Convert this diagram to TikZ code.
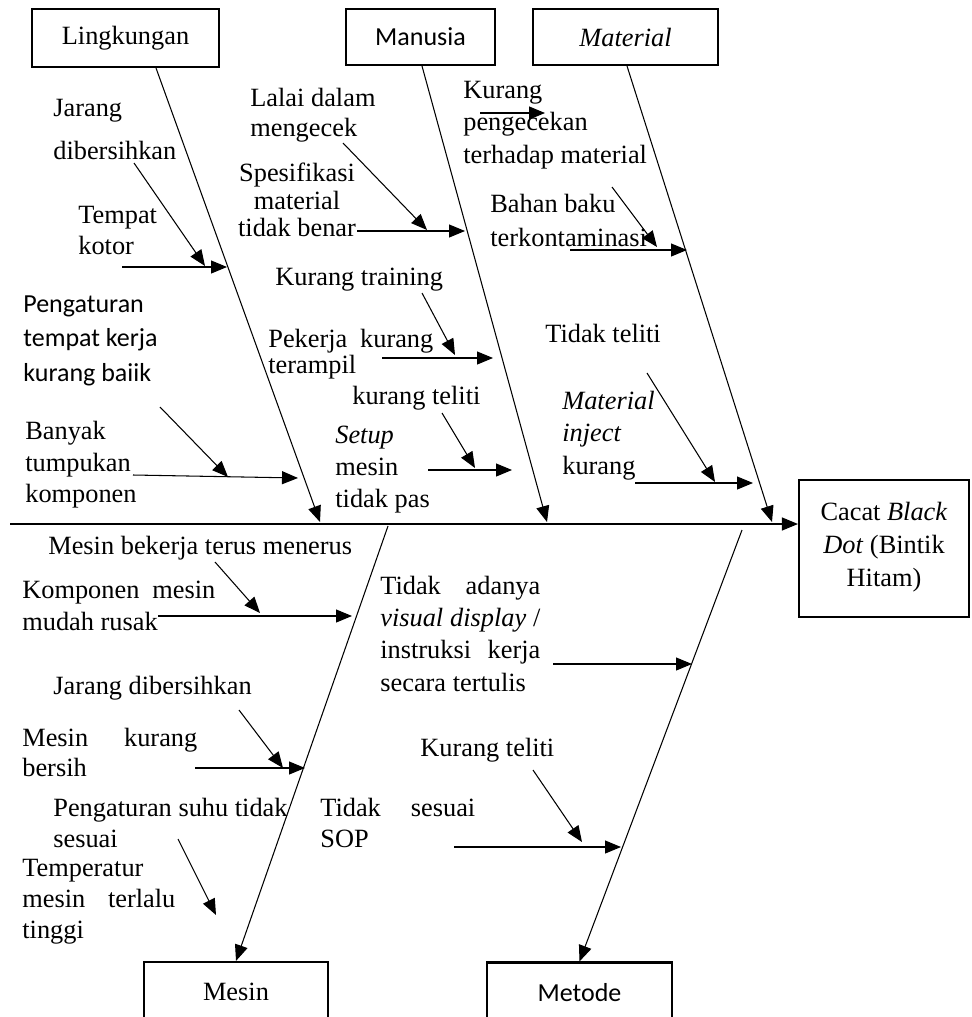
\documentclass[tikz,border=0pt]{standalone}
\usepackage{fontspec}
\setmainfont{Liberation Serif}
\setsansfont{Carlito}
\usetikzlibrary{arrows.meta}
\tikzset{%
  catbox/.style={draw, rectangle, line width=1.2pt, inner sep=0pt, font=\fontsize{15}{18}\selectfont},% category boxes
  cause/.style={inner sep=0pt, anchor=north west, align=left, font=\fontsize{15}{#1}\selectfont},% cause texts
  cause/.default=18,
  scause/.style={cause, font=\sffamily\fontsize{14.8}{#1}\selectfont},% sans cause texts
  bone/.style={line width=0.6pt, -{Triangle[length=3.2mm,width=2.6mm]}},% main bones
  twig/.style={line width=0.6pt, -{Triangle[length=3.2mm,width=2.6mm]}}% cause arrows
}
\newcommand*{\jline}[2]{\makebox[#1][s]{#2}}

\begin{document}
\begin{tikzpicture}[x=0.02cm, y=-0.02cm]
\clip (0,0) rectangle (971,1017);

% category and effect boxes
\node[catbox, minimum width=3.74cm, minimum height=1.16cm] (lk) at (125.5,38) {Lingkungan};
\node[catbox, minimum width=2.98cm, minimum height=1.12cm, font=\sffamily\fontsize{14.8}{18}\selectfont] (mn) at (420.5,37) {Manusia};
\node[catbox, minimum width=3.70cm, minimum height=1.12cm, font=\itshape\fontsize{15}{18}\selectfont] (mt) at (625.5,37) {Material};
\node[catbox, minimum width=3.40cm, minimum height=2.74cm, align=center, font=\fontsize{15}{18.7}\selectfont] (ef) at (884,548.5) {Cacat \textit{Black}\\\textit{Dot} (Bintik\\Hitam)\\[-14pt]\mbox{}};
\node[catbox, minimum width=3.68cm, minimum height=1.20cm] (ms) at (236,992) {Mesin};
\node[catbox, minimum width=3.70cm, minimum height=1.20cm, font=\sffamily\fontsize{14.8}{18}\selectfont] (me) at (579.5,992.5) {Metode};

% spine and bones
\coordinate (spL) at (10,524);
\coordinate (lkA) at (156,68);  \coordinate (lkB) at (320,522);
\coordinate (mnA) at (422,66);  \coordinate (mnB) at (547,522);
\coordinate (mtA) at (627,66);  \coordinate (mtB) at (772,522);
\coordinate (msA) at (388,526);
\coordinate (meA) at (742,530);
\draw[bone] (spL) -- (spL -| ef.west);
\draw[bone] (lkA) -- (lkB);
\draw[bone] (mnA) -- (mnB);
\draw[bone] (mtA) -- (mtB);
\draw[bone] (msA) -- (ms.north);
\draw[bone] (meA) -- (me.north);

% Lingkungan
\node[cause=24.4] (c1) at (53,99) {Jarang\\dibersihkan};
\node[cause=17.6] (c2) at (78,206) {Tempat\\kotor};
\node[scause=19.8] (c3) at (23,295) {Pengaturan\\tempat kerja\\kurang baiik};
\node[cause=17.9] (c4) at (25,421) {Banyak\\tumpukan\\komponen};
\coordinate (p1) at (134,163); \coordinate (q1) at (205,266);
\coordinate (p2) at (122,267); \coordinate (q2) at (227,267);
\coordinate (p3) at (160,407); \coordinate (q3) at (228,477);
\coordinate (p4) at (133,475); \coordinate (q4) at (298,478);
\draw[twig] (p1) -- (q1);
\draw[twig] (p2) -- (q2);
\draw[twig] (p3) -- (q3);
\draw[twig] (p4) -- (q4);

% Manusia
\node[cause=17] (c5) at (250,88) {Lalai dalam\\mengecek};
\node[cause=15.6, anchor=north, align=center] (c6) at (297,163) {Spesifikasi\\material\\tidak benar};
\node[cause] (c7) at (275,268) {Kurang training};
\node[cause=14.7] (c8) at (268,329) {\jline{3.3cm}{Pekerja kurang}\\terampil};
\node[cause] (c9) at (352,386) {kurang teliti};
\node[cause=18.1] (c10) at (335,426) {\textit{Setup}\\mesin\\tidak pas};
\coordinate (p5) at (343,143);  \coordinate (q5) at (427,230);
\coordinate (p6) at (357,231);  \coordinate (q6) at (465,231);
\coordinate (p7) at (422,293);  \coordinate (q7) at (455,355);
\coordinate (p8) at (382,358);  \coordinate (q8) at (493,358);
\coordinate (p9) at (442,413);  \coordinate (q9) at (475,468);
\coordinate (p10) at (428,470); \coordinate (q10) at (512,470);
\draw[twig] (p5) -- (q5);
\draw[twig] (p6) -- (q6);
\draw[twig] (p7) -- (q7);
\draw[twig] (p8) -- (q8);
\draw[twig] (p9) -- (q9);
\draw[twig] (p10) -- (q10);

% Material
\node[cause=18.4] (c11) at (463,81) {Kurang\\pengecekan\\terhadap material};
\node[cause=19.3] (c12) at (490,194) {Bahan baku\\terkontaminasi};
\node[cause] (c13) at (545,324) {Tidak teliti};
\node[cause=18.4] (c14) at (562,391) {\textit{Material}\\\textit{inject}\\kurang};
\coordinate (p11) at (480,113); \coordinate (q11) at (545,113);
\coordinate (p12) at (612,187); \coordinate (q12) at (657,247);
\coordinate (p13) at (570,250); \coordinate (q13) at (687,250);
\coordinate (p14) at (647,373); \coordinate (q14) at (715,482);
\coordinate (p15) at (635,483); \coordinate (q15) at (753,483);
\draw[twig] (p11) -- (q11);
\draw[twig] (p12) -- (q12);
\draw[twig] (p13) -- (q13);
\draw[twig] (p14) -- (q14);
\draw[twig] (p15) -- (q15);

% Mesin
\node[cause] (d1) at (48,536) {Mesin bekerja terus menerus};
\node[cause=18.1] (d2) at (22,581) {\jline{3.86cm}{Komponen mesin}\\mudah rusak};
\node[cause] (d3) at (53,676) {Jarang dibersihkan};
\node[cause=17] (d4) at (22,728) {\jline{3.5cm}{Mesin kurang}\\bersih};
\node[cause=17.6] (d5) at (53,798) {Pengaturan suhu tidak\\sesuai};
\node[cause=17.6] (d6) at (22,859) {Temperatur\\\jline{3.06cm}{mesin terlalu}\\tinggi};
\coordinate (r1) at (215,562); \coordinate (s1) at (260,613);
\coordinate (r2) at (158,616); \coordinate (s2) at (352,616);
\coordinate (r3) at (239,710); \coordinate (s3) at (283,768);
\coordinate (r4) at (195,768); \coordinate (s4) at (305,768);
\coordinate (r5) at (178,839); \coordinate (s5) at (216,915);
\draw[twig] (r1) -- (s1);
\draw[twig] (r2) -- (s2);
\draw[twig] (r3) -- (s3);
\draw[twig] (r4) -- (s4);
\draw[twig] (r5) -- (s5);

% Metode
\node[cause=18.3] (d7) at (380,576) {\jline{3.2cm}{Tidak adanya}\\\jline{3.2cm}{\textit{visual display} /}\\\jline{3.2cm}{instruksi kerja}\\secara tertulis};
\node[cause] (d8) at (420,738) {Kurang teliti};
\node[cause=17.6] (d9) at (320,798) {\jline{3.1cm}{Tidak sesuai}\\SOP};
\coordinate (r6) at (553,664); \coordinate (s6) at (692,664);
\coordinate (r7) at (533,770); \coordinate (s7) at (582,842);
\coordinate (r8) at (454,847); \coordinate (s8) at (621,847);
\draw[twig] (r6) -- (s6);
\draw[twig] (r7) -- (s7);
\draw[twig] (r8) -- (s8);

\end{tikzpicture}
\end{document}
